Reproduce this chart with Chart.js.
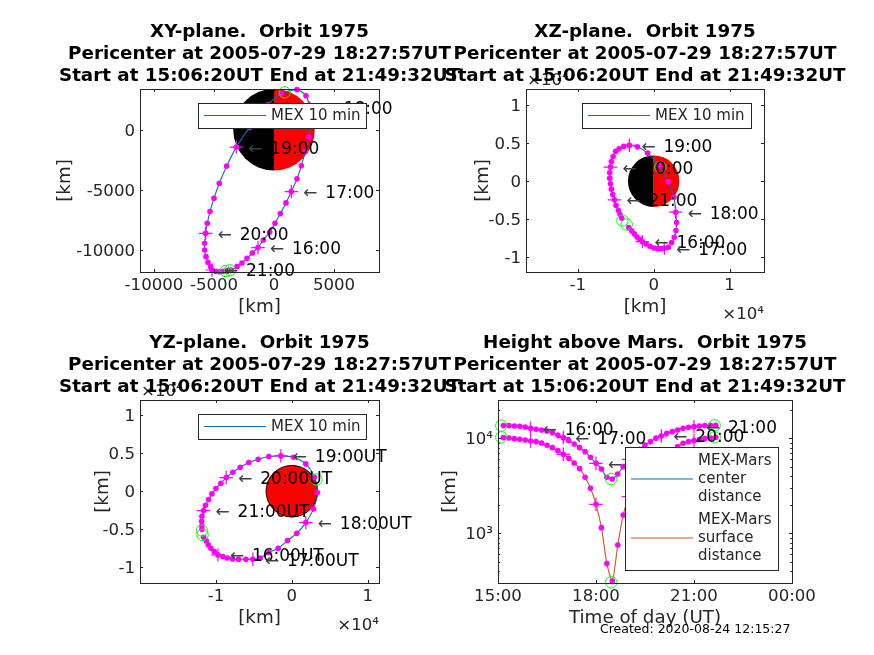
<!DOCTYPE html>
<html>
<head>
<meta charset="utf-8">
<style>
  html, body { margin: 0; padding: 0; background: #fff; width: 874px; height: 655px; overflow: hidden; }
  canvas { position: absolute; left: 0; top: 0; }
  #created { position: absolute; left: 600px; top: 621px; font: 12.5px "DejaVu Sans"; color: #000; white-space: nowrap; }
</style>
</head>
<body>
<canvas id="xy" width="874" height="655"></canvas>
<canvas id="xz" width="874" height="655"></canvas>
<canvas id="yz" width="874" height="655"></canvas>
<canvas id="height" width="874" height="655"></canvas>
<div id="created">Created: 2020-08-24 12:15:27</div>
<script src="https://cdn.jsdelivr.net/npm/chart.js@4/dist/chart.umd.min.js"></script>
<script>
// 10 minute samples, 15:10 .. 21:40, all km
const minutes = [910,920,930,940,950,960,970,980,990,1000,1010,1020,1030,1040,1050,1060,1070,1080,1090,1100,1110,1120,1130,1140,1150,1160,1170,1180,1190,1200,1210,1220,1230,1240,1250,1260,1270,1280,1290,1300];

const xyX = [-3556,-3084,-2667,-2250,-1806,-1333,-889,-361,83,528,1000,1445,1917,2278,2611,2917,3084,2972,2667,1917,611,-500,-2028,-3139,-3945,-4556,-5000,-5334,-5556,-5695,-5778,-5778,-5667,-5500,-5278,-5167,-4862,-4528,-4250,-3973];
const xyY = [-11668,-11390,-11084,-10695,-10251,-9806,-9167,-8528,-7778,-6973,-6084,-5139,-4084,-3000,-1806,-611,556,1806,2834,3334,3000,2084,194,-1445,-3028,-4445,-5695,-6806,-7778,-8612,-9445,-10001,-10556,-11029,-11390,-11668,-11779,-11807,-11779,-11751];
const xzX = [-3290,-2895,-2544,-2193,-1842,-1491,-1009,-482,44,570,1009,1404,1930,2368,2719,2939,3026,2895,2675,1930,702,-789,-2149,-3202,-3947,-4561,-5000,-5351,-5570,-5702,-5790,-5790,-5702,-5570,-5395,-5175,-4956,-4649,-4430,-4211];
const xzY = [-6097,-6535,-6930,-7325,-7632,-7939,-8246,-8553,-8772,-8860,-8860,-8816,-8684,-8070,-7368,-6491,-5439,-4079,-2105,-88,2061,3684,4518,4693,4561,4254,3904,3246,2588,1842,1097,395,-351,-1053,-1754,-2456,-3202,-3860,-4386,-4868];
const yzX = [-11623,-11272,-11009,-10658,-10219,-9737,-9079,-8509,-7807,-7018,-6053,-5132,-4167,-3026,-1798,-570,658,1842,2851,3377,2982,1842,219,-1447,-3026,-4430,-5658,-6798,-7763,-8640,-9342,-10000,-10526,-10965,-11360,-11623,-11842,-11886,-11842,-11842];
const yzY = [-6053,-6535,-7061,-7500,-7939,-8377,-8597,-8772,-8904,-8947,-8947,-8947,-8772,-8070,-7500,-6491,-5526,-4123,-2325,-175,1842,3597,4474,4649,4561,4211,3772,3158,2500,1798,1053,351,-351,-1097,-1842,-2544,-3290,-3947,-4561,-5000];
const centerDist = [13600,13600,13480,13370,13160,12740,12440,12240,11950,11470,10840,10160,9450,8720,7975,7240,6310,5455,4755,3885,3730,4210,5030,6010,6675,7660,8510,9225,10000,10580,11290,11750,12240,12740,13060,13270,13480,13600,13700,13700];
const surfaceDist = [10160,10080,9920,9760,9600,9375,9225,8930,8440,7975,7415,6785,6160,5500,4795,3885,2975,2020,1147,480,315,754,1560,2430,3360,4110,4835,5455,6010,6515,6950,7540,8170,8860,9225,9450,9680,9920,10080,10240];

// start, pericenter, end
const xyGreenX = [-3667,889,-4028];
const xyGreenY = [-11695,3111,-11751];
const xzGreenX = [-3553,877,-4123];
const xzGreenY = [-5702,1842,-5175];
const yzGreenX = [-11754,3246,-11842];
const yzGreenY = [-5746,1535,-5175];
const greenMinutes = [906,1108,1298];
const centerGreen = [13600,3720,13700];
const surfaceGreen = [10240,305,10240];

// index into the samples of the whole hours
const hourIdx = [5,11,17,23,29,35];
const hourLabels = ['16:00','17:00','18:00','19:00','20:00','21:00'];
const hourLabelsUT = ['16:00UT','17:00UT','18:00UT','19:00UT','20:00UT','21:00UT'];

const xyXTicks = [-10000,-5000,0,5000];
const xyXLabels = ['-10000','-5000','0','5000'];
const xyYTicks = [-10000,-5000,0];
const xyYLabels = ['-10000','-5000','0'];
const kmTicksX = [-10000,0,10000];
const kmLabelsX = ['-1','0','1'];
const kmTicksY = [-10000,-5000,0,5000,10000];
const kmLabelsY = ['-1','-0.5','0','0.5','1'];
const timeTicks = [900,1080,1260,1440];
const timeLabels = ['15:00','18:00','21:00','00:00'];
const heightTicks = [1000,10000];
const heightLabels = ['10\u00B3','10\u2074'];
const heightMinor = [300,400,500,600,700,800,900,2000,3000,4000,5000,6000,7000,8000,9000,20000];

const titleLine2 = 'Pericenter at 2005-07-29 18:27:57UT';
const titleLine3 = 'Start at 15:06:20UT End at 21:49:32UT';

const BLUE = '#0072BD', ORANGE = '#D95319', MAGENTA = '#FF00FF', GREEN = '#00FF00', INK = '#262626';
const FONT = '"DejaVu Sans"';
const TICK_SIZE = 16.6, NOTE_SIZE = 17, TITLE_SIZE = 18.3, LEGEND_SIZE = 15;

const pts = (xs, ys) => xs.map((x, i) => ({ x, y: ys[i] }));

// lower order is drawn on top: line, dots, crosses, green rings
function trackSets(xs, ys, gx, gy, color, label) {
  const line = [{ x: gx[0], y: gy[0] }, ...pts(xs, ys), { x: gx[2], y: gy[2] }];
  return [
    { label, order: 4, data: line, showLine: true, borderColor: color, borderWidth: 1.1, pointRadius: 0, tension: 0.25, clip: false },
    { order: 3, data: pts(xs, ys), pointRadius: 2.8, pointBackgroundColor: MAGENTA, pointBorderColor: MAGENTA, pointBorderWidth: 0, clip: false },
    { order: 2, data: pts(hourIdx.map(i => xs[i]), hourIdx.map(i => ys[i])), pointStyle: 'cross', pointRadius: 6.7, pointBorderColor: MAGENTA, pointBorderWidth: 1.2, clip: false },
    { order: 1, data: pts(gx, gy), pointStyle: 'circle', pointRadius: 5.7, pointBackgroundColor: 'transparent', pointBorderColor: GREEN, pointBorderWidth: 1, clip: false }
  ];
}

// mars, hour labels, box, inward ticks, legend and titles
function panelPlugin(p) {
  return {
    id: 'panel',
    beforeDatasetsDraw(chart) {
      if (!p.mars) return;
      const { ctx, chartArea: a, scales: { x, y } } = chart;
      const cx = x.getPixelForValue(0), cy = y.getPixelForValue(0);
      const r = Math.abs(x.getPixelForValue(3397) - cx);
      ctx.save();
      ctx.beginPath();
      ctx.rect(a.left, a.top, a.width, a.height);
      ctx.clip();
      if (p.mars === 'half') {
        ctx.fillStyle = '#000';
        ctx.beginPath(); ctx.arc(cx, cy, r, Math.PI / 2, Math.PI * 1.5); ctx.fill();
        ctx.fillStyle = '#F00';
        ctx.beginPath(); ctx.arc(cx, cy, r, -Math.PI / 2, Math.PI / 2); ctx.fill();
      } else {
        ctx.fillStyle = '#F00';
        ctx.strokeStyle = '#000';
        ctx.beginPath(); ctx.arc(cx, cy, r, 0, Math.PI * 2); ctx.fill(); ctx.stroke();
      }
      ctx.restore();
    },
    afterDatasetsDraw(chart) {
      const { ctx, chartArea: a, scales: { x, y } } = chart;
      ctx.save();

      // hour labels, arrow stands apart from the text
      ctx.font = `${NOTE_SIZE}px ${FONT}`;
      ctx.textAlign = 'left';
      ctx.textBaseline = 'middle';
      hourIdx.forEach((idx, i) => {
        const px = x.getPixelForValue(p.labelX[idx]), py = y.getPixelForValue(p.labelY[idx]);
        ctx.fillStyle = '#404040';
        ctx.fillText('\u2190', px + 12, py + 2);
        ctx.fillStyle = '#000';
        ctx.fillText(p.labels[i], px + 34, py + 2);
      });

      // axes box and ticks
      ctx.strokeStyle = INK;
      ctx.lineWidth = 1;
      ctx.strokeRect(Math.round(a.left) + 0.5, Math.round(a.top) + 0.5, Math.round(a.width), Math.round(a.height));
      ctx.beginPath();
      const tickX = (v, l) => {
        const px = Math.round(x.getPixelForValue(v)) + 0.5;
        ctx.moveTo(px, a.bottom); ctx.lineTo(px, a.bottom - l);
        ctx.moveTo(px, a.top); ctx.lineTo(px, a.top + l);
      };
      const tickY = (v, l) => {
        const py = Math.round(y.getPixelForValue(v)) + 0.5;
        ctx.moveTo(a.left, py); ctx.lineTo(a.left + l, py);
        ctx.moveTo(a.right, py); ctx.lineTo(a.right - l, py);
      };
      p.xTicks.forEach(v => tickX(v, 3));
      p.yTicks.forEach(v => tickY(v, 3));
      (p.yMinor || []).forEach(v => tickY(v, 1.8));
      ctx.stroke();

      // axis labels and exponents
      ctx.fillStyle = INK;
      ctx.font = `${TITLE_SIZE}px ${FONT}`;
      ctx.textAlign = 'center';
      ctx.fillText(p.xTitle, (a.left + a.right) / 2, p.xTitleY);
      ctx.save();
      ctx.translate(p.yTitleX, (a.top + a.bottom) / 2);
      ctx.rotate(-Math.PI / 2);
      ctx.fillText('[km]', 0, 0);
      ctx.restore();
      if (p.exp) {
        ctx.font = `${TICK_SIZE}px ${FONT}`;
        ctx.textAlign = 'left';
        ctx.fillText('\u00D710\u2074', a.left + 1, a.top - 8);
        ctx.textAlign = 'right';
        ctx.fillText('\u00D710\u2074', a.right, a.bottom + 43);
      }

      // legend goes over everything
      const lg = p.legend;
      ctx.fillStyle = '#fff';
      ctx.fillRect(lg.x, lg.y, lg.w, lg.h);
      ctx.strokeStyle = INK;
      ctx.strokeRect(lg.x + 0.5, lg.y + 0.5, lg.w, lg.h);
      ctx.font = `${LEGEND_SIZE}px ${FONT}`;
      ctx.textAlign = 'left';
      lg.items.forEach(it => {
        ctx.strokeStyle = it.color;
        ctx.beginPath();
        ctx.moveTo(lg.x + 6, it.y); ctx.lineTo(lg.x + 68, it.y);
        ctx.stroke();
        ctx.fillStyle = INK;
        it.text.forEach((t, i) => {
          ctx.fillText(t, lg.x + 73, it.y + (i - (it.text.length - 1) / 2) * 18 + 0.5);
        });
      });

      // titles
      ctx.fillStyle = '#000';
      ctx.font = `bold ${TITLE_SIZE}px ${FONT}`;
      ctx.textAlign = 'center';
      const cx = (a.left + a.right) / 2;
      p.title.forEach((t, i) => ctx.fillText(t, cx, p.titleY + i * 21.8));
      ctx.restore();
    }
  };
}

function makePanel(id, p, datasets) {
  const W = 874, H = 655, yW = 70, xH = 30;
  new Chart(document.getElementById(id), {
    type: 'scatter',
    data: { datasets },
    plugins: [panelPlugin(p)],
    options: {
      responsive: false,
      animation: false,
      devicePixelRatio: 1,
      layout: { padding: { left: p.left - yW, right: W - p.right, top: p.top, bottom: H - p.bottom - xH } },
      plugins: { legend: { display: false }, title: { display: false }, tooltip: { enabled: false } },
      scales: {
        x: {
          type: 'linear', min: p.xMin, max: p.xMax,
          afterFit: s => { s.height = xH; },
          afterBuildTicks: s => { s.ticks = p.xTicks.map(value => ({ value })); },
          grid: { display: false, drawTicks: false }, border: { display: false },
          ticks: { color: INK, padding: 4, autoSkip: false, maxRotation: 0, font: { family: FONT, size: TICK_SIZE },
            callback: (v) => p.xLabels[p.xTicks.indexOf(v)] }
        },
        y: {
          type: p.yLog ? 'logarithmic' : 'linear', min: p.yMin, max: p.yMax,
          afterFit: s => { s.width = yW; },
          afterBuildTicks: s => { s.ticks = p.yTicks.map(value => ({ value })); },
          grid: { display: false, drawTicks: false }, border: { display: false },
          ticks: { color: INK, padding: 5, labelOffset: 1.5, autoSkip: false, font: { family: FONT, size: TICK_SIZE },
            callback: (v) => p.yLabels[p.yTicks.indexOf(v)] }
        }
      }
    }
  });
}

makePanel('xy', {
  left: 140, right: 379, top: 89, bottom: 272,
  xMin: -11167, xMax: 8750, yMin: -11833, yMax: 3390,
  xTicks: xyXTicks, xLabels: xyXLabels, yTicks: xyYTicks, yLabels: xyYLabels,
  mars: 'half', labelX: xyX, labelY: xyY, labels: hourLabels,
  xTitle: '[km]', xTitleY: 307, yTitleX: 65,
  title: ['XY-plane.  Orbit 1975', titleLine2, titleLine3], titleY: 32.5,
  legend: { x: 198, y: 103, w: 168, h: 25, items: [{ color: BLUE, y: 115.5, text: ['MEX 10 min'] }] }
}, trackSets(xyX, xyY, xyGreenX, xyGreenY, BLUE, 'MEX 10 min'));

makePanel('xz', {
  left: 526, right: 764, top: 89, bottom: 272, exp: true,
  xMin: -16840, xMax: 14550, yMin: -11930, yMax: 12100,
  xTicks: kmTicksX, xLabels: kmLabelsX, yTicks: kmTicksY, yLabels: kmLabelsY,
  mars: 'half', labelX: xzX, labelY: xzY, labels: hourLabels,
  xTitle: '[km]', xTitleY: 307, yTitleX: 483,
  title: ['XZ-plane.  Orbit 1975', titleLine2, titleLine3], titleY: 32.5,
  legend: { x: 582, y: 103, w: 169, h: 25, items: [{ color: BLUE, y: 115.5, text: ['MEX 10 min'] }] }
}, trackSets(xzX, xzY, xzGreenX, xzGreenY, BLUE, 'MEX 10 min'));

makePanel('yz', {
  left: 140, right: 379, top: 400, bottom: 583, exp: true,
  xMin: -20000, xMax: 11480, yMin: -12070, yMax: 12000,
  xTicks: kmTicksX, xLabels: kmLabelsX, yTicks: kmTicksY, yLabels: kmLabelsY,
  mars: 'full', labelX: yzX, labelY: yzY, labels: hourLabelsUT,
  xTitle: '[km]', xTitleY: 618, yTitleX: 103,
  title: ['YZ-plane.  Orbit 1975', titleLine2, titleLine3], titleY: 343.5,
  legend: { x: 198, y: 414, w: 168, h: 25, items: [{ color: BLUE, y: 426.5, text: ['MEX 10 min'] }] }
}, trackSets(yzX, yzY, yzGreenX, yzGreenY, BLUE, 'MEX 10 min'));

makePanel('height', {
  left: 498, right: 792, top: 400, bottom: 583, yLog: true,
  xMin: 900, xMax: 1440, yMin: 300, yMax: 25300,
  xTicks: timeTicks, xLabels: timeLabels, yTicks: heightTicks, yLabels: heightLabels, yMinor: heightMinor,
  labelX: minutes, labelY: centerDist, labels: hourLabels,
  xTitle: 'Time of day (UT)', xTitleY: 618, yTitleX: 450,
  title: ['Height above Mars.  Orbit 1975', titleLine2, titleLine3], titleY: 343.5,
  legend: { x: 625, y: 447, w: 153, h: 123, items: [
    { color: BLUE, y: 479, text: ['MEX-Mars', 'center', 'distance'] },
    { color: ORANGE, y: 538, text: ['MEX-Mars', 'surface', 'distance'] }
  ] }
}, [
  ...trackSets(minutes, centerDist, greenMinutes, centerGreen, BLUE, 'MEX-Mars center distance'),
  ...trackSets(minutes, surfaceDist, greenMinutes, surfaceGreen, ORANGE, 'MEX-Mars surface distance')
]);
</script>
</body>
</html>
